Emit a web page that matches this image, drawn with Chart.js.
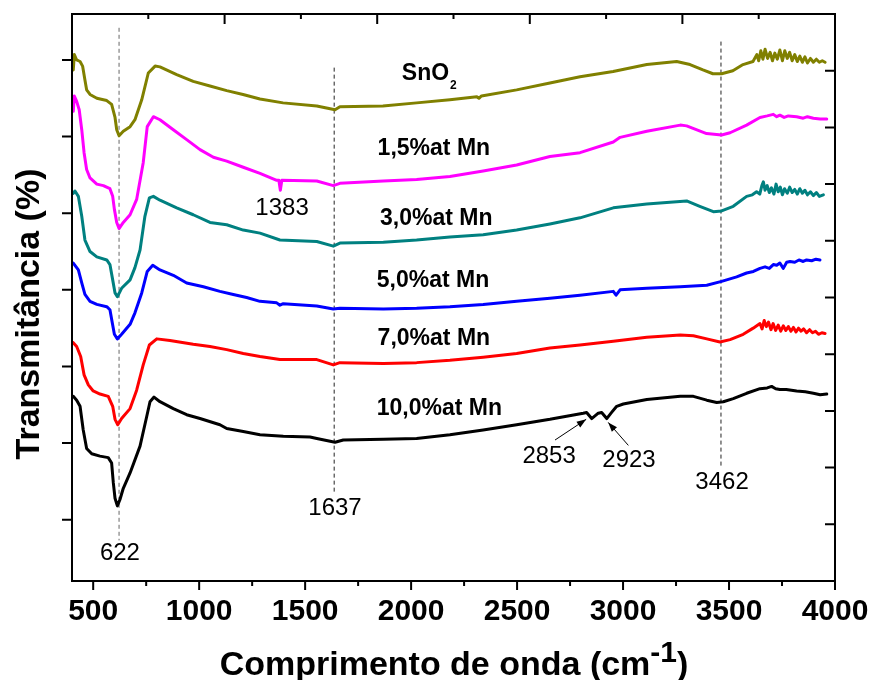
<!DOCTYPE html>
<html>
<head>
<meta charset="utf-8">
<title>FTIR - SnO2 dopado com Mn</title>
<script src="https://cdn.jsdelivr.net/npm/chart.js@4.4.1/dist/chart.umd.min.js"></script>
<style>
  body { margin: 0; background: #fff; }
</style>
</head>
<body>
<canvas id="ftir-chart" width="871" height="680"></canvas>
<script>
// spectra: [wavenumber, transmittance (offset, a.u.)]
const sno2 = [[406,5.87],[411,6.07],[422,6.00],[438,5.98],[450,5.92],[461,5.74],[469,5.61],[485,5.55],[517,5.50],[564,5.47],[587,5.42],[603,5.25],[611,5.09],[622,5.01],[642,5.07],[674,5.13],[697,5.22],[729,5.48],[760,5.83],[792,5.92],[815,5.91],[894,5.81],[972,5.72],[1051,5.66],[1130,5.60],[1207,5.55],[1287,5.49],[1396,5.44],[1555,5.40],[1641,5.35],[1664,5.39],[1867,5.40],[2026,5.44],[2183,5.48],[2310,5.52],[2320,5.50],[2332,5.53],[2498,5.61],[2655,5.70],[2797,5.78],[2953,5.85],[3112,5.94],[3253,5.98],[3316,5.94],[3377,5.87],[3424,5.82],[3465,5.82],[3518,5.86],[3566,5.94],[3613,5.98],[3631,6.07],[3640,5.99],[3650,6.12],[3660,6.01],[3670,6.14],[3682,6.02],[3694,6.10],[3705,5.99],[3716,6.09],[3728,6.01],[3740,6.13],[3752,5.99],[3763,6.12],[3775,6.02],[3786,6.10],[3798,5.99],[3810,6.07],[3822,5.98],[3834,6.05],[3846,5.97],[3858,6.04],[3870,5.96],[3884,6.02],[3898,5.97],[3912,6.01],[3926,5.97],[3940,5.99],[3953,5.97]];
const mn15 = [[406,5.33],[411,5.53],[422,5.46],[434,5.35],[446,5.09],[457,4.79],[469,4.57],[485,4.46],[517,4.38],[548,4.36],[579,4.32],[592,4.22],[600,4.05],[611,3.88],[622,3.80],[642,3.88],[674,3.98],[705,4.18],[736,4.66],[755,5.13],[784,5.26],[815,5.22],[878,5.09],[941,4.96],[1004,4.83],[1067,4.73],[1130,4.68],[1208,4.60],[1287,4.52],[1366,4.43],[1376,4.43],[1383,4.30],[1390,4.43],[1555,4.42],[1633,4.36],[1664,4.39],[1869,4.42],[2026,4.44],[2183,4.48],[2340,4.55],[2498,4.63],[2655,4.74],[2797,4.79],[2954,4.93],[2986,4.99],[3112,5.07],[3270,5.15],[3300,5.14],[3394,5.04],[3465,5.02],[3505,5.05],[3583,5.15],[3646,5.25],[3680,5.27],[3709,5.29],[3725,5.26],[3740,5.28],[3760,5.25],[3780,5.27],[3819,5.26],[3850,5.24],[3870,5.26],[3898,5.24],[3930,5.23],[3961,5.23]];
const mn30 = [[406,4.26],[414,4.29],[430,4.22],[446,3.96],[461,3.65],[485,3.50],[517,3.43],[564,3.39],[579,3.33],[592,3.13],[603,2.96],[614,2.91],[634,3.02],[674,3.13],[697,3.29],[721,3.52],[744,3.96],[765,4.20],[784,4.22],[815,4.17],[894,4.07],[972,3.98],[1051,3.88],[1130,3.85],[1208,3.78],[1287,3.74],[1381,3.65],[1555,3.63],[1633,3.57],[1664,3.61],[1869,3.62],[2026,3.65],[2183,3.69],[2340,3.72],[2498,3.78],[2655,3.86],[2797,3.94],[2954,4.07],[3112,4.12],[3300,4.16],[3362,4.09],[3426,4.02],[3465,4.03],[3520,4.09],[3583,4.22],[3610,4.24],[3630,4.28],[3645,4.25],[3655,4.36],[3662,4.41],[3670,4.30],[3680,4.36],[3690,4.27],[3700,4.33],[3712,4.25],[3722,4.38],[3732,4.28],[3742,4.34],[3752,4.24],[3762,4.32],[3775,4.26],[3786,4.34],[3798,4.27],[3810,4.31],[3822,4.25],[3834,4.32],[3846,4.26],[3858,4.30],[3870,4.24],[3884,4.28],[3898,4.23],[3912,4.27],[3926,4.22],[3945,4.24]];
const mn50 = [[406,3.35],[430,3.26],[446,3.09],[461,2.94],[485,2.85],[517,2.81],[564,2.78],[579,2.74],[590,2.57],[600,2.42],[614,2.36],[634,2.42],[674,2.55],[697,2.70],[729,2.96],[755,3.24],[781,3.32],[815,3.26],[878,3.19],[941,3.09],[1020,3.04],[1098,2.98],[1161,2.94],[1224,2.90],[1287,2.85],[1366,2.83],[1381,2.80],[1397,2.82],[1555,2.79],[1633,2.75],[1664,2.76],[1869,2.75],[2026,2.76],[2183,2.78],[2340,2.81],[2498,2.85],[2655,2.89],[2797,2.93],[2954,2.98],[2967,2.93],[2986,3.00],[3112,3.02],[3270,3.04],[3395,3.06],[3465,3.11],[3536,3.17],[3583,3.22],[3615,3.24],[3646,3.28],[3670,3.30],[3690,3.28],[3709,3.33],[3725,3.32],[3740,3.35],[3756,3.28],[3772,3.36],[3788,3.37],[3810,3.36],[3830,3.39],[3850,3.37],[3866,3.39],[3890,3.38],[3910,3.40],[3929,3.39]];
const mn70 = [[406,2.31],[422,2.26],[441,2.13],[457,1.89],[477,1.76],[500,1.68],[532,1.64],[571,1.61],[592,1.48],[603,1.31],[616,1.24],[634,1.32],[674,1.45],[705,1.69],[736,2.02],[765,2.28],[800,2.36],[862,2.34],[972,2.29],[1051,2.26],[1130,2.22],[1208,2.17],[1287,2.13],[1381,2.09],[1555,2.09],[1633,2.02],[1664,2.05],[1869,2.04],[2026,2.05],[2183,2.08],[2340,2.12],[2498,2.17],[2655,2.24],[2797,2.28],[2954,2.33],[3112,2.38],[3270,2.41],[3332,2.40],[3395,2.36],[3457,2.32],[3505,2.35],[3567,2.42],[3614,2.50],[3646,2.56],[3656,2.49],[3666,2.60],[3676,2.52],[3686,2.58],[3698,2.48],[3708,2.56],[3720,2.47],[3732,2.54],[3744,2.46],[3756,2.53],[3768,2.47],[3780,2.52],[3792,2.46],[3804,2.51],[3816,2.45],[3828,2.50],[3840,2.46],[3852,2.49],[3866,2.44],[3880,2.48],[3894,2.44],[3908,2.46],[3922,2.42],[3938,2.44],[3953,2.43]];
const mn100 = [[406,1.61],[422,1.56],[438,1.48],[453,1.17],[469,0.93],[493,0.86],[532,0.83],[571,0.81],[587,0.74],[595,0.48],[603,0.28],[614,0.18],[626,0.26],[642,0.41],[674,0.61],[721,0.96],[752,1.34],[768,1.54],[787,1.60],[815,1.54],[878,1.45],[941,1.37],[1004,1.32],[1098,1.24],[1130,1.19],[1208,1.15],[1287,1.11],[1397,1.09],[1523,1.08],[1555,1.06],[1641,1.01],[1680,1.04],[1869,1.05],[2026,1.06],[2183,1.11],[2340,1.17],[2498,1.24],[2655,1.31],[2812,1.39],[2828,1.40],[2852,1.32],[2883,1.39],[2899,1.40],[2923,1.32],[2946,1.40],[2970,1.48],[3001,1.51],[3112,1.57],[3270,1.61],[3332,1.61],[3395,1.56],[3442,1.53],[3473,1.54],[3520,1.58],[3583,1.65],[3646,1.71],[3680,1.72],[3701,1.74],[3720,1.71],[3740,1.70],[3770,1.70],[3819,1.68],[3860,1.67],[3898,1.65],[3930,1.63],[3961,1.64]];

const seriesNames = ['SnO2', '1,5%at Mn', '3,0%at Mn', '5,0%at Mn', '7,0%at Mn', '10,0%at Mn'];
const seriesColors = ['#808000', '#ff00ff', '#008080', '#0000ff', '#ff0000', '#000000'];
const spectra = [sno2, mn15, mn30, mn50, mn70, mn100];

// where each curve label sits (left edge wavenumber, baseline value)
const labelX = [1956, 1842, 1853, 1838, 1842, 1838];
const labelY = [5.74, 4.76, 3.85, 3.04, 2.28, 1.37];

// dashed marker lines and their band labels
const peaks = [622, 1637, 3462];
const peakTop = [6.42, 5.90, 6.24];
const peakBottom = [-0.27, 0.36, 0.69];
const bandLabels = [
    { text: '622', x: 626, y: -0.44 },
    { text: '1637', x: 1641, y: 0.15 },
    { text: '3462', x: 3467, y: 0.49 },
    { text: '1383', x: 1391, y: 4.06 },
    { text: '2853', x: 2651, y: 0.82 },
    { text: '2923', x: 3028, y: 0.77 }
];
const arrows = [
    { from: [2679, 1.04], to: [2826, 1.31] },
    { from: [3025, 0.97], to: [2930, 1.27] }
];

// axis ticks
const xMajor = [500, 1000, 1500, 2000, 2500, 3000, 3500, 4000];
const xMinor = [750, 1250, 1750, 2250, 2750, 3250, 3750];
const yMajor = [0, 1, 2, 3, 4, 5, 6];
const topTicks = [760, 1120, 1480, 1840, 2200, 2560, 2920, 3280, 3640];
const rightTicks = [-0.06, 0.68, 1.42, 2.16, 2.90, 3.64, 4.38, 5.12, 5.86];

const FONT = "'Liberation Sans', Arial, sans-serif";
Chart.defaults.font.family = FONT;
Chart.defaults.color = '#000';

function toPoints(pairs) {
    return pairs.map(p => ({ x: p[0], y: p[1] }));
}

const datasets = spectra.map((s, i) => ({
    label: seriesNames[i],
    data: toPoints(s),
    borderColor: seriesColors[i],
    borderWidth: 3,
    pointRadius: 0,
    fill: false,
    tension: 0,
    borderJoinStyle: 'round',
    borderCapStyle: 'round'
}));

peaks.forEach((w, i) => {
    datasets.push({
        label: 'peak ' + w,
        data: [{ x: w, y: peakTop[i] }, { x: w, y: peakBottom[i] }],
        borderColor: i === 0 ? '#666' : '#222',
        borderWidth: 1,
        borderDash: [4, 3],
        pointRadius: 0
    });
});

// frame, ticks, titles and text annotations
const decorations = {
    id: 'decorations',
    afterDraw(chart) {
        const ctx = chart.ctx;
        const a = chart.chartArea;
        const x = chart.scales.x;
        const y = chart.scales.y;
        ctx.save();
        ctx.strokeStyle = '#000';
        ctx.lineWidth = 2;
        ctx.strokeRect(a.left, a.top, a.right - a.left, a.bottom - a.top);

        ctx.beginPath();
        xMajor.forEach(v => {
            const px = x.getPixelForValue(v);
            ctx.moveTo(px, a.bottom); ctx.lineTo(px, a.bottom + 9);
        });
        xMinor.forEach(v => {
            const px = x.getPixelForValue(v);
            ctx.moveTo(px, a.bottom); ctx.lineTo(px, a.bottom + 5);
        });
        yMajor.forEach(v => {
            const py = y.getPixelForValue(v);
            ctx.moveTo(a.left, py); ctx.lineTo(a.left - 10, py);
        });
        topTicks.forEach((v, i) => {
            const px = x.getPixelForValue(v);
            ctx.moveTo(px, a.top); ctx.lineTo(px, a.top + (i % 2 ? 10 : 5));
        });
        rightTicks.forEach(v => {
            const py = y.getPixelForValue(v);
            ctx.moveTo(a.right, py); ctx.lineTo(a.right - 10, py);
        });
        ctx.stroke();

        // curve labels
        ctx.fillStyle = '#000';
        ctx.textAlign = 'left';
        ctx.textBaseline = 'alphabetic';
        seriesNames.forEach((name, i) => {
            const px = x.getPixelForValue(labelX[i]);
            const py = y.getPixelForValue(labelY[i]);
            ctx.font = 'bold 23px ' + FONT;
            if (name === 'SnO2') {
                ctx.fillText('SnO', px, py);
                const w = ctx.measureText('SnO').width;
                ctx.font = 'bold 12px ' + FONT;
                ctx.fillText('2', px + w + 1, py + 9);
            } else {
                ctx.fillText(name, px, py);
            }
        });

        // band positions
        ctx.font = '24px ' + FONT;
        ctx.textAlign = 'center';
        ctx.textBaseline = 'middle';
        bandLabels.forEach(b => {
            ctx.fillText(b.text, x.getPixelForValue(b.x), y.getPixelForValue(b.y));
        });

        // arrows
        ctx.lineWidth = 1;
        arrows.forEach(ar => {
            const x0 = x.getPixelForValue(ar.from[0]), y0 = y.getPixelForValue(ar.from[1]);
            const x1 = x.getPixelForValue(ar.to[0]), y1 = y.getPixelForValue(ar.to[1]);
            const ang = Math.atan2(y1 - y0, x1 - x0);
            ctx.beginPath();
            ctx.moveTo(x0, y0); ctx.lineTo(x1, y1);
            ctx.stroke();
            ctx.beginPath();
            ctx.moveTo(x1, y1);
            ctx.lineTo(x1 - 10 * Math.cos(ang - 0.35), y1 - 10 * Math.sin(ang - 0.35));
            ctx.lineTo(x1 - 10 * Math.cos(ang + 0.35), y1 - 10 * Math.sin(ang + 0.35));
            ctx.closePath();
            ctx.fill();
        });

        // y title
        ctx.save();
        ctx.translate(39, 314);
        ctx.rotate(-Math.PI / 2);
        ctx.font = 'bold 34px ' + FONT;
        ctx.textAlign = 'center';
        ctx.textBaseline = 'alphabetic';
        ctx.fillText('Transmitância (%)', 0, 0);
        ctx.restore();

        // x title with superscript
        const main = 'Comprimento de onda (cm';
        ctx.textAlign = 'left';
        ctx.textBaseline = 'alphabetic';
        ctx.font = 'bold 34px ' + FONT;
        const wMain = ctx.measureText(main).width;
        const wClose = ctx.measureText(')').width;
        ctx.font = 'bold 30px ' + FONT;
        const wSup = ctx.measureText('-1').width;
        const left = 454 - (wMain + wSup + wClose) / 2;
        const base = 675;
        ctx.font = 'bold 34px ' + FONT;
        ctx.fillText(main, left, base);
        ctx.fillText(')', left + wMain + wSup, base);
        ctx.font = 'bold 30px ' + FONT;
        ctx.fillText('-1', left + wMain, base - 13);
        ctx.restore();
    }
};

const ctx = document.getElementById('ftir-chart').getContext('2d');
const chart = new Chart(ctx, {
    type: 'line',
    data: { datasets: datasets },
    options: {
        responsive: false,
        animation: false,
        events: [],
        layout: { padding: { top: 14, right: 36, bottom: 0, left: 0 } },
        plugins: {
            legend: { display: false },
            tooltip: { enabled: false }
        },
        scales: {
            x: {
                type: 'linear',
                min: 400,
                max: 4000,
                grid: { display: false, drawTicks: false },
                border: { display: false },
                afterBuildTicks: scale => { scale.ticks = xMajor.map(v => ({ value: v })); },
                afterFit: scale => {
                    scale.height = 99;
                    scale.paddingLeft = 0;
                    scale.paddingRight = 0;
                },
                ticks: {
                    font: { size: 30, weight: 'bold', lineHeight: 1.2 },
                    padding: 13,
                    maxRotation: 0,
                    autoSkip: false,
                    callback: v => String(v)
                }
            },
            y: {
                type: 'linear',
                min: -0.8,
                max: 6.6,
                grid: { display: false, drawTicks: false },
                border: { display: false },
                afterFit: scale => { scale.width = 72; },
                ticks: { display: false }
            }
        }
    },
    plugins: [decorations]
});
</script>
</body>
</html>
